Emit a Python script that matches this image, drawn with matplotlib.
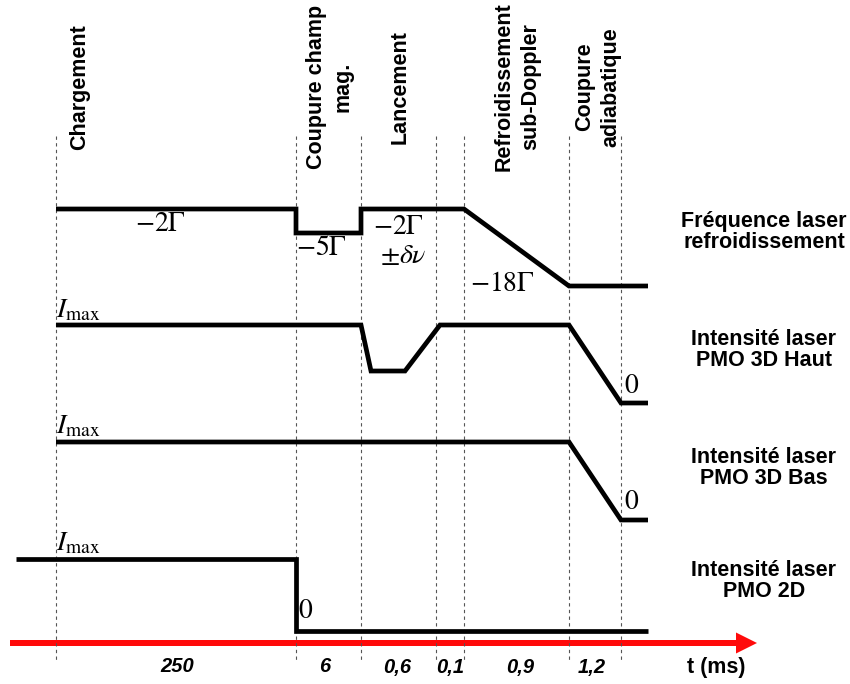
import matplotlib.pyplot as plt

plt.rcParams['font.family'] = ['Liberation Sans', 'DejaVu Sans']
plt.rcParams['mathtext.fontset'] = 'stix'

# schematic positions (figure units) of the phase boundaries
boundaries = [56, 296, 361, 436, 464, 569, 621]
phases = ['Chargement', 'Coupure champ\nmag.', 'Lancement',
          'Refroidissement\nsub-Doppler', 'Coupure\nadiabatique']
phase_pos = [80, 330, 400, 517, 598]
durations = ['250', '6', '0,6', '0,1', '0,9', '1,2']
dur_pos = [177, 325, 397, 450, 520, 592]

# traces: schematic time breakpoints and levels
freq_t = [56, 296, 296, 361, 361, 464, 569, 648]
freq_y = [209, 209, 233, 233, 209, 209, 286, 286]
haut_t = [56, 361, 371, 405, 440, 569, 621, 648]
haut_y = [325, 325, 371, 371, 325, 325, 403, 403]
bas_t = [56, 569, 621, 648]
bas_y = [442, 442, 520, 520]
pmo2d_t = [16, 296, 296, 648]
pmo2d_y = [559, 559, 631, 631]

channels = ['Fréquence laser\nrefroidissement', 'Intensité laser\nPMO 3D Haut',
            'Intensité laser\nPMO 3D Bas', 'Intensité laser\nPMO 2D']
channel_y = [232, 350, 468, 581]

fig = plt.figure(figsize=(8.5, 6.84), dpi=100)
ax = fig.add_axes([0, 0, 1, 1])
ax.set_xlim(0, 850)
ax.set_ylim(684, 0)
ax.axis('off')

# dashed phase boundaries
for b in boundaries:
    ax.plot([b, b], [136, 662], color='#555555', lw=0.8, ls=(0, (3, 3)))

# traces
for t, y in [(freq_t, freq_y), (haut_t, haut_y), (bas_t, bas_y), (pmo2d_t, pmo2d_y)]:
    ax.plot(t, y, color='black', lw=3.4, solid_joinstyle='miter', solid_capstyle='butt')

# time arrow
ax.arrow(10, 643, 747, 0, width=6, head_width=21, head_length=21,
         length_includes_head=True, color='#ff0a0a', lw=0)

# phase names
for name, x in zip(phases, phase_pos):
    ax.text(x, 87, name, rotation=90, ha='center', va='center', multialignment='center',
            fontsize=15.5, fontweight='bold', linespacing=1.35)

# channel names
for name, y in zip(channels, channel_y):
    ax.text(764, y, name, ha='center', va='center', multialignment='center',
            fontsize=15.5, fontweight='bold', linespacing=1.0)

# durations
for d, x in zip(durations, dur_pos):
    ax.text(x, 667, d, ha='center', va='center', fontsize=14.5,
            fontweight='bold', fontstyle='italic')
ax.text(716, 668, 't (ms)', ha='center', va='center', fontsize=15.5, fontweight='bold')

# level annotations
ax.text(160, 224, r'$-2\Gamma$', ha='center', va='center', fontsize=20)
ax.text(321, 248, r'$-5\Gamma$', ha='center', va='center', fontsize=20)
ax.text(398, 227, r'$-2\Gamma$', ha='center', va='center', fontsize=20)
ax.text(403, 256, r'$\pm\delta\nu$', ha='center', va='center', fontsize=20)
ax.text(502, 284, r'$-18\Gamma$', ha='center', va='center', fontsize=20)
for y in [323, 439, 556]:
    ax.text(56, y, r'$I_{\mathrm{max}}$', ha='left', va='bottom', fontsize=20)
for x, y in [(632, 386), (632, 502), (306, 611)]:
    ax.text(x, y, r'$0$', ha='center', va='center', fontsize=20)

plt.savefig('out.png', dpi=100)
